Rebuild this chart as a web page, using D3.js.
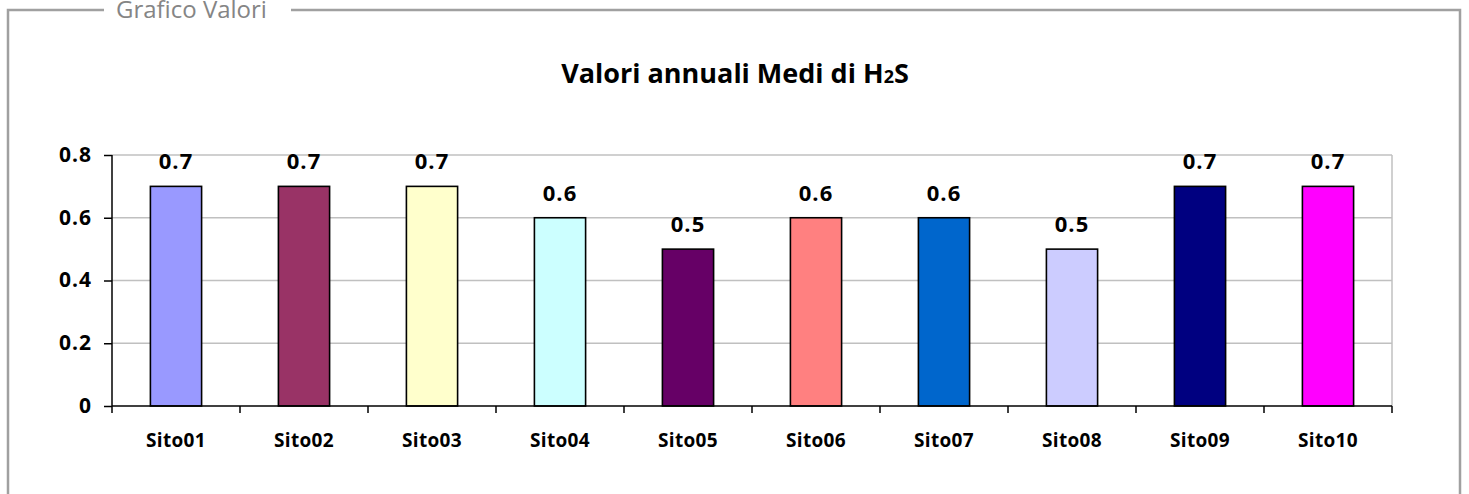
<!DOCTYPE html>
<html>
<head>
<meta charset="utf-8">
<script src="https://cdn.jsdelivr.net/npm/d3@7"></script>
<style>
  html, body { margin: 0; padding: 0; background: #fff; }
  svg { display: block; font-family: "Open Sans", "Noto Sans", sans-serif; }
</style>
</head>
<body>
<svg width="1469" height="494"></svg>
<script>
const sites = ["Sito01", "Sito02", "Sito03", "Sito04", "Sito05", "Sito06", "Sito07", "Sito08", "Sito09", "Sito10"];
const values = [0.7, 0.7, 0.7, 0.6, 0.5, 0.6, 0.6, 0.5, 0.7, 0.7];
const barColors = ["#9999FF", "#993366", "#FFFFCC", "#CCFFFF", "#660066", "#FF8080", "#0066CC", "#CCCCFF", "#000080", "#FF00FF"];
const yTicks = [0, 0.2, 0.4, 0.6, 0.8];

const svg = d3.select("svg");

// fieldset-like frame
const frame = svg.append("g");
frame.append("path")
    .attr("d", "M8,500 L8,10 L104,10 M291,10 L1460,10 L1460,500")
    .attr("fill", "none")
    .attr("stroke", "#a0a0a0")
    .attr("stroke-width", 2.5);
frame.append("text")
    .attr("x", 116).attr("y", 18)
    .attr("fill", "#858585")
    .style("font-size", "24px")
    .text("Grafico Valori");

// title
const title = svg.append("text")
    .attr("x", 735).attr("y", 83)
    .attr("text-anchor", "middle")
    .style("font-size", "27px")
    .style("font-weight", "bold")
    .attr("fill", "#000");
title.append("tspan").text("Valori annuali Medi di H");
title.append("tspan").style("font-size", "18px").text("2");
title.append("tspan").text("S");

const margin = { left: 112, right: 1392, top: 155, bottom: 406 };

const x = d3.scaleBand()
    .domain(sites)
    .range([margin.left, margin.right])
    .paddingInner(0.6)
    .paddingOuter(0.3);

const y = d3.scaleLinear()
    .domain([0, 0.8])
    .range([margin.bottom, margin.top]);

// gridlines
svg.append("g")
    .selectAll("line")
    .data(yTicks.filter(d => d > 0))
    .join("line")
    .attr("x1", margin.left).attr("x2", margin.right)
    .attr("y1", d => y(d)).attr("y2", d => y(d))
    .attr("stroke", "#c0c0c0")
    .attr("stroke-width", 1.5);

svg.append("line")
    .attr("x1", margin.right).attr("x2", margin.right)
    .attr("y1", margin.top).attr("y2", margin.bottom)
    .attr("stroke", "#c0c0c0")
    .attr("stroke-width", 1.5);

// bars
svg.append("g")
    .selectAll("rect")
    .data(sites)
    .join("rect")
    .attr("x", d => x(d))
    .attr("y", (d, i) => y(values[i]))
    .attr("width", x.bandwidth())
    .attr("height", (d, i) => y(0) - y(values[i]))
    .attr("fill", (d, i) => barColors[i])
    .attr("stroke", "#000")
    .attr("stroke-width", 1.6);

// value labels
svg.append("g")
    .selectAll("text")
    .data(sites)
    .join("text")
    .attr("x", d => x(d) + x.bandwidth() / 2)
    .attr("y", (d, i) => y(values[i]) - 17)
    .attr("text-anchor", "middle")
    .style("font-size", "22px")
    .style("font-weight", "bold")
    .style("letter-spacing", "1px")
    .text((d, i) => d3.format(".1f")(values[i]));

// y axis
const yAxis = svg.append("g")
    .attr("transform", `translate(${margin.left},0)`)
    .call(d3.axisLeft(y).tickValues(yTicks).tickSize(8).tickPadding(12)
        .tickFormat(d => d === 0 ? "0" : d3.format(".1f")(d)));
yAxis.select(".domain").attr("stroke", "#000").attr("stroke-width", 1.5).attr("d", `M0,${margin.top}V${margin.bottom}`);
yAxis.selectAll(".tick line").attr("stroke", "#000").attr("stroke-width", 1.5);
yAxis.selectAll(".tick text")
    .attr("fill", "#000")
    .attr("dy", "0.3em")
    .style("font-family", "'Open Sans', sans-serif")
    .style("font-size", "21px")
    .style("font-weight", "bold")
    .style("letter-spacing", "1px");

// x axis
const xAxis = svg.append("g")
    .attr("transform", `translate(0,${margin.bottom})`);
xAxis.append("line")
    .attr("x1", margin.left).attr("x2", margin.right)
    .attr("stroke", "#000").attr("stroke-width", 1.5);
const step = x.step();
xAxis.selectAll(".xtick")
    .data(d3.range(sites.length + 1))
    .join("line")
    .attr("class", "xtick")
    .attr("x1", i => margin.left + i * step)
    .attr("x2", i => margin.left + i * step)
    .attr("y1", 0).attr("y2", 7)
    .attr("stroke", "#000").attr("stroke-width", 1.5);
xAxis.selectAll("text")
    .data(sites)
    .join("text")
    .attr("x", d => x(d) + x.bandwidth() / 2)
    .attr("y", 41)
    .attr("text-anchor", "middle")
    .style("font-size", "19px")
    .style("font-weight", "bold")
    .style("letter-spacing", "0.3px")
    .text(d => d);
</script>
</body>
</html>
